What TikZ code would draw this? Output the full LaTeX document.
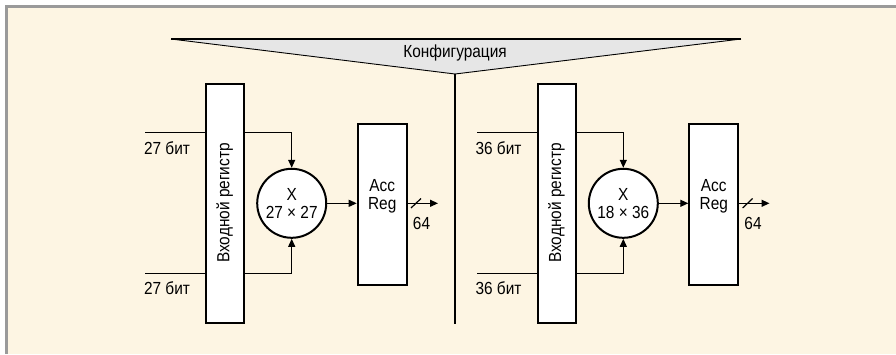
\documentclass[tikz,border=0pt]{standalone}
\usepackage{fontspec}
\setmainfont{Liberation Sans}[FakeStretch=0.88]
\usetikzlibrary{arrows.meta}

\definecolor{cream}{HTML}{FDF5E3}
\definecolor{framegray}{HTML}{9A9A9A}
\definecolor{confgray}{HTML}{E6E6E6}

\tikzset{
  box/.style={draw,line width=2pt,fill=white,inner sep=0pt},
  reg/.style={box,minimum width=38pt,minimum height=239pt},
  acc/.style={box,minimum width=49pt,minimum height=161pt},
  mul/.style={box,circle,minimum size=69pt,align=center},
  wire/.style={line width=1.2pt},
  lbl/.style={inner sep=0pt}
}

\begin{document}
\begin{tikzpicture}[x=1pt,y=-1pt,>={Triangle[length=8pt,width=7pt]},
    font=\fontsize{17.5}{18}\selectfont]
	  \useasboundingbox (0,0) rectangle (896,354);
	  \fill[white] (0,0) rectangle (896,354);
	  \fill[framegray] (5,5) rectangle (896,354);
	  \fill[cream] (8,8) rectangle (896,354);
	  % configuration
	  \coordinate (apex) at (455,74);
	  \coordinate (midend) at (455,324);
	  \fill[confgray] (171,39) -- (741,39) -- (apex) -- cycle;
	  \draw[line width=0.9pt] (171,39) -- (apex) -- (741,39);
	  \draw[line width=2pt] (171,39) -- (741,39);
	  \node[lbl] (conf) at (455,53) {Конфигурация};
	  \draw[line width=1.3pt] (apex) -- (midend);
	  % left half
	  \node[reg] (regL) at (224.8,203) {};
	  \node[lbl,rotate=90] (regLtxt) at (regL.center) {Входной регистр};
	  \node[mul] (mulL) at (291.7,203.3) {X\\27 × 27};
	  \node[acc] (accL) at (382.2,204.7) {};
	  \node[lbl,align=center] (accLtxt) at (382.2,196) {Acc\\Reg};
	  \coordinate (inL1) at (145,132.7);
	  \coordinate (inL2) at (145,273.3);
	  \coordinate (outL) at (438,203.3);
	  \node[lbl] (bitL1) at (167,147.7) {27 бит};
	  \node[lbl] (bitL2) at (167,288) {27 бит};
	  \draw[wire] (inL1) -- (inL1 -| regL.west);
	  \draw[wire] (inL2) -- (inL2 -| regL.west);
	  \draw[wire,->] (inL1 -| regL.east) -| (mulL.north);
	  \draw[wire,->] (inL2 -| regL.east) -| (mulL.south);
	  \draw[wire,->] (mulL.east) -- (mulL.east -| accL.west);
	  \draw[wire,->] (outL -| accL.east) -- (outL);
	  \draw[wire] (411,208) -- (421,198.5);
	  \node[lbl] (wL) at (421.5,223) {64};
	  % right half
	  \node[reg] (regR) at (556.5,203) {};
	  \node[lbl,rotate=90] (regRtxt) at (regR.center) {Входной регистр};
	  \node[mul] (mulR) at (623.3,203.3) {X\\18 × 36};
	  \node[acc] (accR) at (713.8,204.7) {};
	  \node[lbl,align=center] (accRtxt) at (713.8,196) {Acc\\Reg};
	  \coordinate (inR1) at (477,132.7);
	  \coordinate (inR2) at (477,273.3);
	  \coordinate (outR) at (769.5,203.3);
	  \node[lbl] (bitR1) at (498.5,147.7) {36 бит};
	  \node[lbl] (bitR2) at (498.5,288) {36 бит};
	  \draw[wire] (inR1) -- (inR1 -| regR.west);
	  \draw[wire] (inR2) -- (inR2 -| regR.west);
	  \draw[wire,->] (inR1 -| regR.east) -| (mulR.north);
	  \draw[wire,->] (inR2 -| regR.east) -| (mulR.south);
	  \draw[wire,->] (mulR.east) -- (mulR.east -| accR.west);
	  \draw[wire,->] (outR -| accR.east) -- (outR);
	  \draw[wire] (742.6,208) -- (752.6,198.5);
	  \node[lbl] (wR) at (753,223) {64};
	\end{tikzpicture}
\end{document}
